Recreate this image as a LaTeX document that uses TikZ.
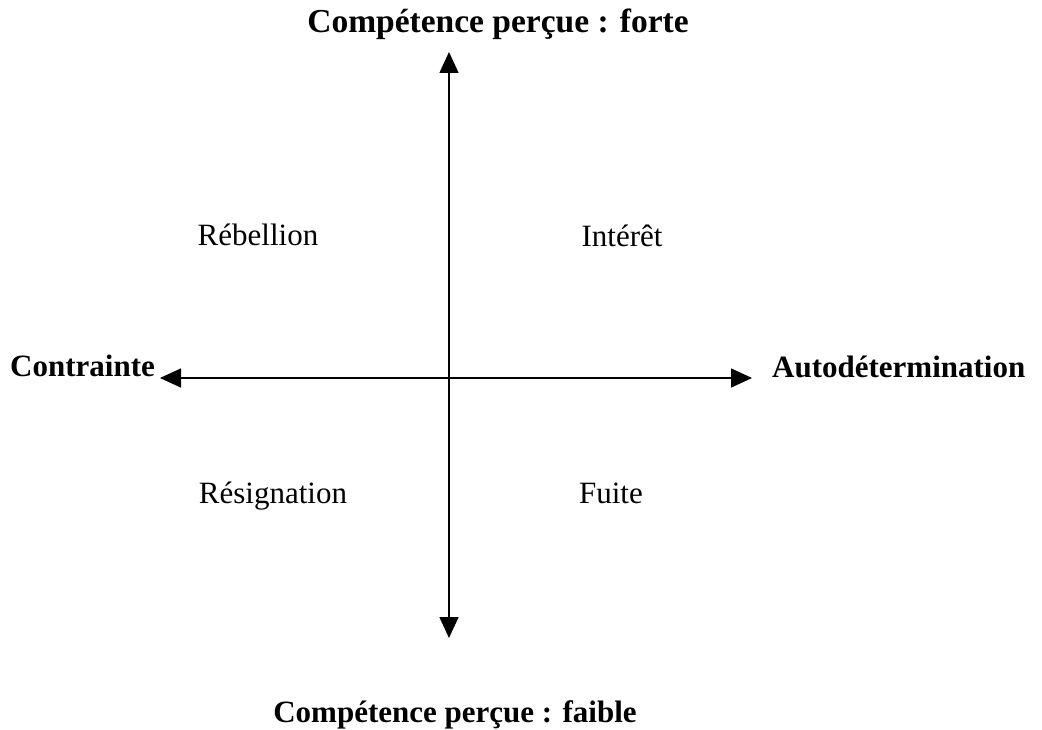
\documentclass[tikz,border=0pt]{standalone}
\usepackage{fontspec}
\setmainfont{Liberation Serif}
\usetikzlibrary{arrows.meta}
\tikzset{
  axis/.style={line width=1.5pt,{Triangle[length=21pt,width=19pt]}-{Triangle[length=21pt,width=19pt]}},
  quad/.style={inner sep=0pt,anchor=base,font=\fontsize{31}{36}\selectfont},
  polelabel/.style={inner sep=0pt,font=\fontsize{31}{36}\selectfont\bfseries},
}
\begin{document}
\begin{tikzpicture}[x=1pt,y=-1pt]
\useasboundingbox (0,0) rectangle (1042,730);
\coordinate (top) at (449,52);
\coordinate (bottom) at (449,638);
\coordinate (left) at (160,378);
\coordinate (right) at (752,378);
\draw[axis] (bottom) -- (top);
\draw[axis] (left) -- (right);
\node[polelabel,anchor=base,font=\fontsize{33.5}{38}\selectfont\bfseries] (ptop) at (498,33) {Compétence perçue : forte};
\node[polelabel,anchor=base] (pbottom) at (455,722) {Compétence perçue : faible};
\node[polelabel,anchor=base west] (pleft) at (10,376) {Contrainte};
\node[polelabel,anchor=base west] (pright) at (772,377) {Autodétermination};
\node[quad] (q1) at (258,246) {Rébellion};
\node[quad] (q2) at (622,247) {Intérêt};
\node[quad] (q3) at (273,503) {Résignation};
\node[quad] (q4) at (611,503) {Fuite};
\end{tikzpicture}
\end{document}
